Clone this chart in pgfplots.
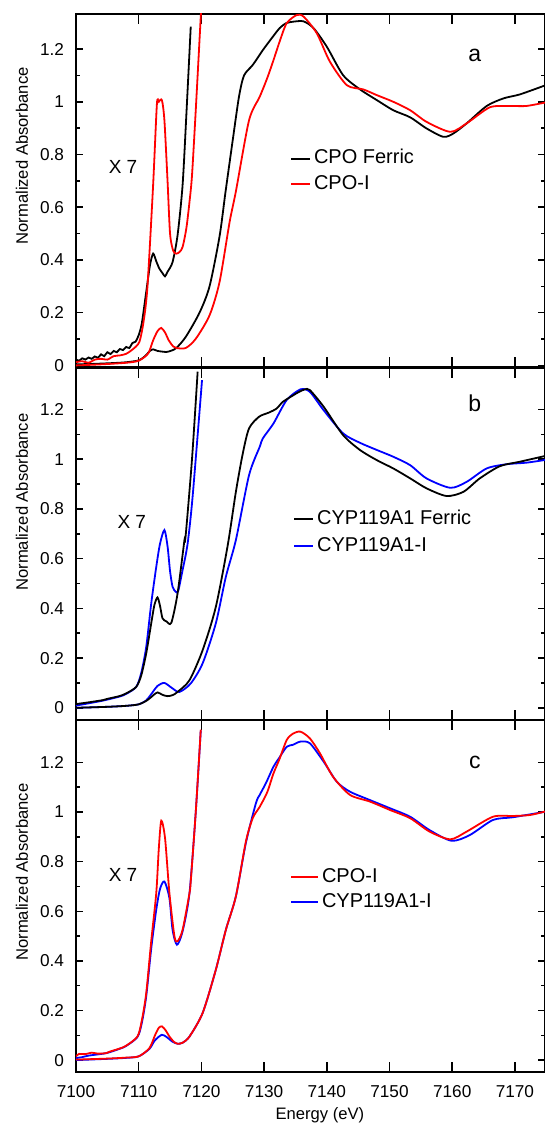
\documentclass[border=0pt]{standalone}
\usepackage{fontspec}
\setmainfont{Liberation Sans}
\usepackage{pgfplots}
\pgfplotsset{compat=1.18}

\pgfplotsset{
  xanes/.style={
    scale only axis, width=234.5pt, height=176pt,
    xmin=7100, xmax=7174.8,
    xtick={7100,7110,7120,7130,7140,7150,7160,7170},
    ytick={0,0.2,0.4,0.6,0.8,1,1.2},
    minor y tick num=1,
    tick align=inside, xtick pos=both, ytick pos=both,
    axis line style={line width=1pt},
    tick style={line width=0.75pt, black},
    major tick length=3.5pt, minor tick length=2pt,
    xtick style={/pgfplots/major tick length=5pt},
    /pgf/number format/assume math mode=true,
    /pgf/number format/1000 sep={},
    ticklabel style={font=\fontsize{8.6}{10}\selectfont},
    yticklabel style={xshift=-2.5pt},
    ylabel={Normalized Absorbance},
    label style={font=\fontsize{8.3}{10}\selectfont},
    every axis plot/.append style={line width=0.9pt, smooth, tension=0.45},
    legend cell align=left,
    legend image code/.code={\draw[#1, line width=0.9pt] (0pt,0pt) -- (9.5pt,0pt);},
  }
}

\begin{document}
\begin{tikzpicture}
\useasboundingbox (0,0) rectangle (272.5pt,563pt);

% ---------- panel a ----------
\begin{axis}[xanes, at={(38pt,379.5pt)}, anchor=south west, height=176.5pt,
  ymin=-0.006, ymax=1.333, xticklabels={},
  ylabel style={at={(axis description cs:-0.1154,0.598)}, anchor=center},
  legend style={at={(axis cs:7134.1,0.834)}, anchor=north west, draw=none, fill=none,
    inner sep=0pt, font=\fontsize{10}{12}\selectfont,
    nodes={text height=7.5pt, text depth=2.2pt, inner sep=1.5pt}}]
\addlegendimage{black}\addlegendentry{CPO Ferric}
\addlegendimage{red}\addlegendentry{CPO-I}
% CPO ferric
\addplot[black, forget plot] coordinates {
(7100,0.004)(7103,0.006)(7106,0.009)(7108,0.012)(7110,0.019)(7111,0.035)(7111.8,0.055)
(7112.3,0.061)(7113,0.055)(7114.4,0.051)(7115.2,0.056)(7116,0.066)(7117.5,0.108)
(7119.7,0.20)(7121.3,0.30)(7122.9,0.49)(7123.8,0.65)(7125,0.855)(7126,1.02)(7126.8,1.10)
(7128.2,1.14)(7129.8,1.196)(7131.4,1.247)(7132.5,1.28)(7133.5,1.298)(7134.7,1.304)
(7136.3,1.305)(7137.9,1.279)(7140,1.209)(7142.6,1.101)(7145.3,1.047)(7148,1.006)
(7150.6,0.968)(7153.3,0.941)(7155.9,0.899)(7158.6,0.867)(7160.2,0.880)(7162.3,0.918)
(7165.5,0.984)(7168.2,1.013)(7170.8,1.028)(7174.8,1.062)};
% CPO ferric x7
\addplot[black, forget plot] coordinates {
(7100,0.023)(7100.5,0.018)(7101,0.027)(7101.5,0.022)(7102,0.030)(7102.5,0.025)(7103,0.034)
(7103.5,0.029)(7104,0.042)(7104.5,0.035)(7105,0.050)(7105.5,0.043)(7106,0.055)(7106.5,0.050)
(7107,0.062)(7107.5,0.058)(7108,0.070)(7108.5,0.066)(7109,0.085)(7109.5,0.090)(7110,0.115)
(7110.5,0.16)(7111.2,0.279)(7111.8,0.38)(7112.3,0.424)(7112.8,0.395)(7113.3,0.367)
(7113.8,0.350)(7114.2,0.338)(7114.6,0.355)(7115.4,0.392)(7116.2,0.494)(7117,0.684)
(7117.6,0.95)(7118.3,1.285)};
% CPO-I
\addplot[red, forget plot] coordinates {
(7100,0.0)(7104,0.004)(7108,0.010)(7110,0.018)(7111.5,0.045)(7112.3,0.095)(7113,0.13)
(7113.6,0.142)(7114.2,0.125)(7114.8,0.095)(7115.5,0.072)(7116,0.066)(7117.5,0.066)
(7119.1,0.101)(7121.3,0.19)(7122.9,0.317)(7124.5,0.544)(7125.5,0.66)(7127.6,0.93)
(7129.3,1.019)(7130.5,1.09)(7131.5,1.158)(7132.5,1.23)(7133.6,1.298)(7135.2,1.329)
(7136.3,1.323)(7138.4,1.26)(7140.5,1.152)(7143.2,1.063)(7145.8,1.047)(7148,1.025)
(7150.6,1.0)(7153.3,0.968)(7155.9,0.924)(7159.7,0.886)(7162.3,0.918)(7166,0.979)
(7169.2,0.984)(7171.8,0.984)(7174.8,0.997)};
% CPO-I x7
\addplot[red, forget plot] coordinates {
(7100,0.012)(7101,0.016)(7102,0.010)(7103,0.022)(7104,0.025)(7105,0.022)(7106,0.035)
(7107,0.038)(7108,0.044)(7109,0.060)(7110.1,0.089)(7110.8,0.17)(7111.4,0.30)(7112.3,0.684)
(7112.9,0.99)(7113.2,1.0)(7113.7,1.006)(7114.1,0.93)(7114.6,0.70)(7115.0,0.50)
(7115.5,0.435)(7116,0.424)(7116.5,0.43)(7117,0.449)(7117.6,0.52)(7118.1,0.62)
(7118.5,0.72)(7119.1,0.968)(7119.9,1.323)(7120.1,1.40)};
\node[font=\fontsize{9.5}{11}\selectfont] at (axis cs:7107.5,0.752) {X 7};
\node[font=\fontsize{11.5}{13}\selectfont] at (axis cs:7163.6,1.177) {a};
\end{axis}

% ---------- panel b ----------
\begin{axis}[xanes, at={(38pt,203pt)}, anchor=south west,
  ymin=-0.049, ymax=1.367, xticklabels={},
  ylabel style={at={(axis description cs:-0.1154,0.619)}, anchor=center},
  legend style={at={(axis cs:7134.6,0.817)}, anchor=north west, draw=none, fill=none,
    inner sep=0pt, font=\fontsize{10}{12}\selectfont,
    nodes={text height=8pt, text depth=2.5pt, inner sep=1.5pt}}]
\addlegendimage{black}\addlegendentry{CYP119A1 Ferric}
\addlegendimage{blue}\addlegendentry{CYP119A1-I}
% CYP119A1-I
\addplot[blue, forget plot] coordinates {
(7100,0.0)(7105,0.004)(7108,0.008)(7110,0.014)(7111.2,0.03)(7112,0.055)(7113,0.088)
(7114.1,0.10)(7115.4,0.078)(7116.5,0.064)(7118.3,0.098)(7120.2,0.179)(7122.3,0.34)
(7123.9,0.527)(7125.5,0.675)(7127.6,0.936)(7129.3,1.05)(7129.8,1.084)(7131.5,1.144)
(7133.6,1.238)(7135.8,1.281)(7137.3,1.271)(7139.5,1.197)(7142.6,1.104)(7145.3,1.066)
(7148,1.037)(7150.6,1.010)(7153.3,0.976)(7155.9,0.923)(7159.7,0.885)(7162.3,0.909)
(7165.5,0.963)(7168.7,0.980)(7171.8,0.986)(7174.8,0.997)};
% CYP119A1-I x7
\addplot[blue, forget plot] coordinates {
(7100,0.009)(7102,0.018)(7104.3,0.029)(7106.9,0.045)(7108,0.056)(7109.6,0.084)(7110.4,0.14)
(7111.2,0.245)(7112,0.42)(7112.8,0.567)(7113.4,0.66)(7114.1,0.715)(7114.6,0.65)
(7115.0,0.55)(7115.4,0.487)(7115.9,0.467)(7116.3,0.47)(7117,0.554)(7117.8,0.66)
(7118.6,0.85)(7120.1,1.318)};
% CYP119A1 ferric
\addplot[black, forget plot] coordinates {
(7100,0.0)(7105,0.004)(7108,0.008)(7110,0.014)(7111.4,0.031)(7112.3,0.05)(7113,0.062)
(7113.8,0.052)(7114.6,0.047)(7115.4,0.051)(7116.2,0.064)(7118.1,0.111)(7120.2,0.232)
(7122.3,0.406)(7124.2,0.654)(7125.5,0.869)(7126.6,1.023)(7127.6,1.124)(7129.2,1.171)
(7130.8,1.188)(7132,1.204)(7133,1.231)(7134.7,1.258)(7135.5,1.27)(7136.5,1.281)
(7137.3,1.278)(7139.5,1.211)(7142.6,1.097)(7145.3,1.037)(7148,0.996)(7150.6,0.963)
(7153.3,0.923)(7155.9,0.883)(7159.1,0.852)(7161.8,0.869)(7164.4,0.923)(7167.6,0.972)
(7170.8,0.990)(7174.8,1.013)};
% CYP119A1 ferric x7
\addplot[black, forget plot] coordinates {
(7100,0.015)(7102,0.022)(7104.3,0.031)(7105,0.036)(7106.9,0.047)(7108,0.058)(7109.6,0.084)
(7110.4,0.13)(7111.2,0.219)(7112,0.34)(7112.5,0.413)(7113,0.444)(7113.4,0.41)(7113.8,0.36)
(7114.4,0.348)(7115.2,0.342)(7116.2,0.46)(7117.3,0.675)(7117.5,0.695)(7118.5,1.0)
(7119.4,1.352)};
\node[font=\fontsize{9.5}{11}\selectfont] at (axis cs:7108.9,0.747) {X 7};
\node[font=\fontsize{11.5}{13}\selectfont] at (axis cs:7163.6,1.226) {b};
\end{axis}

% ---------- panel c ----------
\begin{axis}[xanes, at={(38pt,27pt)}, anchor=south west,
  ymin=-0.048, ymax=1.371,
  xticklabel style={yshift=-3pt},
  xlabel={Energy (eV)},
  xlabel style={at={(axis description cs:0.52,0)}, anchor=center, yshift=-21.5pt},
  ylabel style={at={(axis description cs:-0.1154,0.568)}, anchor=center},
  legend style={at={(axis cs:7134.1,0.79)}, anchor=north west, draw=none, fill=none,
    inner sep=0pt, font=\fontsize{10}{12}\selectfont,
    nodes={text height=7.5pt, text depth=2pt, inner sep=1.5pt}},
  legend image code/.code={\draw[#1, line width=0.9pt] (0pt,0pt) -- (13.5pt,0pt);}]
\addlegendimage{red}\addlegendentry{CPO-I}
\addlegendimage{blue}\addlegendentry{CYP119A1-I}
% CYP119A1-I
\addplot[blue, forget plot] coordinates {
(7100,0.0)(7105,0.005)(7108,0.009)(7110,0.015)(7111.7,0.045)(7112.6,0.08)(7113.7,0.102)
(7114.5,0.092)(7115.4,0.074)(7116.2,0.066)(7117,0.07)(7118.1,0.095)(7120.2,0.19)
(7122.3,0.364)(7123.9,0.525)(7125.5,0.66)(7127.1,0.876)(7128.7,1.036)(7129.3,1.069)
(7130.3,1.117)(7131.5,1.183)(7132.4,1.218)(7133.6,1.263)(7134.6,1.271)(7135.8,1.284)
(7137.3,1.277)(7139.5,1.203)(7141.6,1.122)(7143.7,1.082)(7146.9,1.048)(7150.1,1.015)
(7153.3,0.981)(7156.4,0.927)(7159.9,0.884)(7162.8,0.907)(7166.5,0.968)(7169.7,0.979)
(7174.8,1.001)};
% CYP119A1-I x7
\addplot[blue, forget plot] coordinates {
(7100,0.008)(7101,0.012)(7102,0.018)(7104.8,0.028)(7106.9,0.045)(7108,0.057)(7109.8,0.093)
(7110.5,0.15)(7111.2,0.257)(7112,0.45)(7112.8,0.606)(7113.4,0.69)(7114.1,0.72)
(7114.9,0.653)(7115.4,0.525)(7116.1,0.465)(7117,0.519)(7118.1,0.673)(7119.1,1.0)
(7119.9,1.329)};
% CPO-I
\addplot[red, forget plot] coordinates {
(7100,0.002)(7105,0.006)(7108,0.010)(7110,0.015)(7111.7,0.048)(7112.6,0.10)(7113.2,0.13)
(7113.7,0.136)(7114.3,0.12)(7114.9,0.095)(7115.6,0.074)(7116.2,0.066)(7117,0.07)
(7118.1,0.095)(7120.2,0.19)(7122.3,0.364)(7123.9,0.525)(7125.5,0.66)(7127.1,0.882)
(7128.2,0.976)(7129.3,1.021)(7130.5,1.08)(7131.5,1.156)(7132.4,1.21)(7133.6,1.29)
(7134.6,1.316)(7135.8,1.324)(7137.3,1.297)(7138.9,1.237)(7141,1.142)(7143.7,1.069)
(7146.9,1.042)(7150.1,1.008)(7153.3,0.975)(7156.4,0.921)(7159.7,0.890)(7162.3,0.921)
(7166.5,0.981)(7169.7,0.984)(7172.4,0.988)(7174.8,1.002)};
% CPO-I x7
\addplot[red, forget plot] coordinates {
(7100,0.015)(7100.5,0.025)(7101.5,0.024)(7102.5,0.030)(7103.5,0.026)(7104.8,0.028)
(7105.5,0.035)(7106.9,0.046)(7108,0.058)(7109.8,0.095)(7110.5,0.16)(7111.2,0.27)
(7112,0.48)(7112.8,0.673)(7113.2,0.85)(7113.6,0.965)(7114.2,0.895)(7114.9,0.673)
(7115.7,0.499)(7116.2,0.479)(7117,0.525)(7118.1,0.673)(7118.3,0.72)(7119.1,1.0)
(7119.9,1.332)};
\node[font=\fontsize{9.5}{11}\selectfont] at (axis cs:7107.5,0.746) {X 7};
\node[font=\fontsize{11.5}{13}\selectfont] at (axis cs:7163.6,1.20) {c};
\end{axis}
\end{tikzpicture}
\end{document}
